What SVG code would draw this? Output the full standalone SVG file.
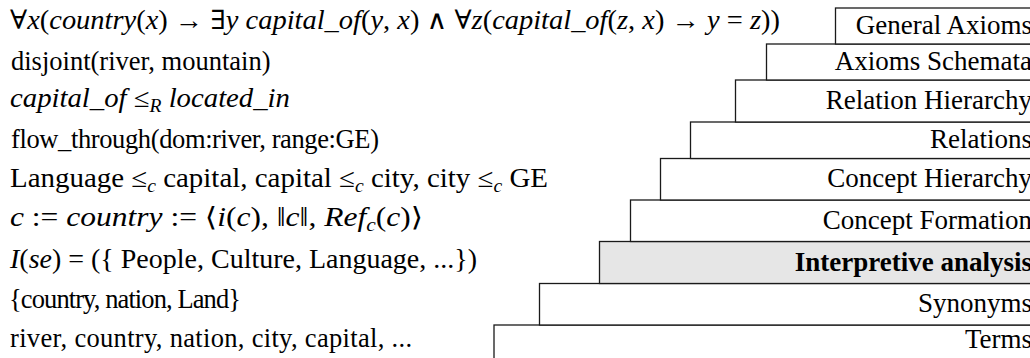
<svg xmlns="http://www.w3.org/2000/svg" width="1030" height="358" viewBox="0 0 1030 358">
<style>
text { font-family: "Liberation Serif", "DejaVu Serif", serif; font-size: 26.5px; fill: #000; }
.it { font-style: italic; }
.sub { font-size: 18px; }
.box { fill: #fff; stroke: #1a1a1a; stroke-width: 1.3; }
.hl { fill: #e6e6e6; }
.lbl { text-anchor: end; font-size: 27px; }
.b { font-weight: bold; }
</style>
<g id="connectors"></g>
<g id="formulas">
<text x="10" y="29" textLength="770" lengthAdjust="spacingAndGlyphs">∀<tspan class="it">x</tspan>(<tspan class="it">country</tspan>(<tspan class="it">x</tspan>) → ∃<tspan class="it">y capital_of</tspan>(<tspan class="it">y</tspan>, <tspan class="it">x</tspan>) ∧ ∀<tspan class="it">z</tspan>(<tspan class="it">capital_of</tspan>(<tspan class="it">z</tspan>, <tspan class="it">x</tspan>) → <tspan class="it">y</tspan> = <tspan class="it">z</tspan>))</text>
<text x="11" y="70">disjoint(river, mountain)</text>
<text x="10" y="107" textLength="280" lengthAdjust="spacingAndGlyphs"><tspan class="it">capital_of</tspan>  ≤<tspan class="sub it" dy="5">R</tspan><tspan class="it" dy="-5"> located_in</tspan></text>
<text x="11" y="148" textLength="368" lengthAdjust="spacing">flow_through(dom:river, range:GE)</text>
<text x="10" y="187" textLength="538" lengthAdjust="spacingAndGlyphs">Language ≤<tspan class="sub it" dy="5">c</tspan><tspan dy="-5"> capital, capital ≤</tspan><tspan class="sub it" dy="5">c</tspan><tspan dy="-5"> city, city ≤</tspan><tspan class="sub it" dy="5">c</tspan><tspan dy="-5"> GE</tspan></text>
<text x="10" y="226" textLength="413" lengthAdjust="spacingAndGlyphs"><tspan class="it">c</tspan> := <tspan class="it">country</tspan> := ⟨<tspan class="it">i</tspan>(<tspan class="it">c</tspan>), ‖<tspan class="it">c</tspan>‖, <tspan class="it">Ref</tspan><tspan class="sub it" dy="5">c</tspan><tspan dy="-5">(</tspan><tspan class="it">c</tspan>)⟩</text>
<text x="10" y="268" textLength="467" lengthAdjust="spacingAndGlyphs"><tspan class="it">I</tspan>(<tspan class="it">se</tspan>) = ({ People, Culture, Language, ...})</text>
<text x="9" y="308" textLength="232" lengthAdjust="spacing">{country, nation, Land}</text>
<text x="10" y="347" textLength="402" lengthAdjust="spacing">river, country, nation, city, capital, ...</text>
</g>
<g id="terms"><rect class="box" x="494" y="325" width="560" height="60"/><text class="lbl" x="1032" y="348">Terms</text></g>
<g id="synonyms"><rect class="box" x="539.5" y="283.5" width="520" height="41.5"/><text class="lbl" x="1032" y="312">Synonyms</text></g>
<g id="interpretive"><rect class="box hl" x="599.5" y="241.5" width="460" height="42"/><text class="lbl b" x="1032" y="271">Interpretive analysis</text></g>
<g id="concept-formation"><rect class="box" x="630.5" y="200" width="430" height="41.5"/><text class="lbl" x="1032" y="229">Concept Formation</text></g>
<g id="concept-hierarchy"><rect class="box" x="660.5" y="158.5" width="400" height="41.5"/><text class="lbl" x="1032" y="187">Concept Hierarchy</text></g>
<g id="relations"><rect class="box" x="690.5" y="122" width="370" height="36.5"/><text class="lbl" x="1032" y="148">Relations</text></g>
<g id="relation-hierarchy"><rect class="box" x="735.5" y="80" width="320" height="42"/><text class="lbl" x="1032" y="109">Relation Hierarchy</text></g>
<g id="axioms-schemata"><rect class="box" x="766.5" y="44" width="290" height="36"/><text class="lbl" x="1032" y="70">Axioms Schemata</text></g>
<g id="general-axioms"><rect class="box" x="835.5" y="8" width="220" height="36"/><text class="lbl" x="1032" y="34">General Axioms</text></g>
</svg>
